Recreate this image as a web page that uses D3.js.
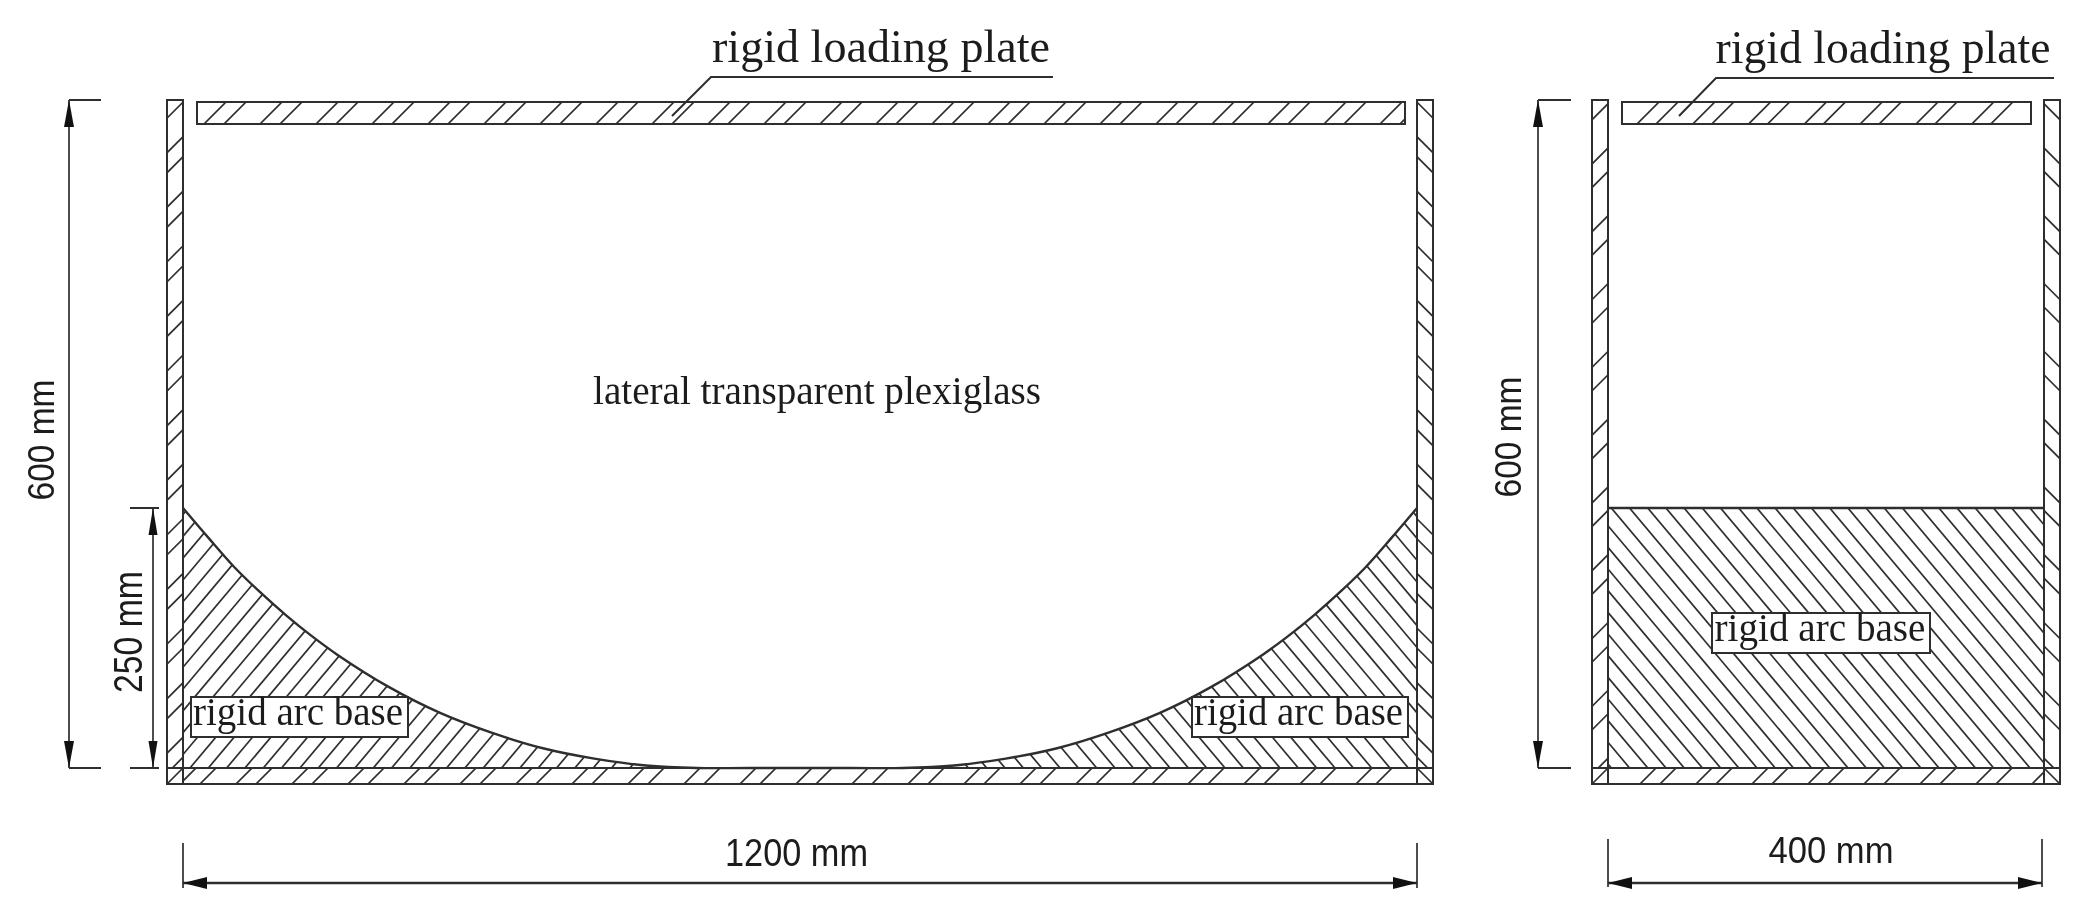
<!DOCTYPE html>
<html><head><meta charset="utf-8">
<script src="https://cdnjs.cloudflare.com/ajax/libs/d3/7.8.5/d3.min.js"></script>
<style>html,body{margin:0;padding:0;background:#fff}svg{display:block;filter:blur(0.7px)}</style>
</head><body><svg id="c" width="2096" height="912"></svg>
<script>
// Values (millimetres)
const frontWidth = 1200, sideWidth = 400, boxHeight = 600, baseHeight = 250;
const arcX = [0,25,50,75,100,125,150,200,250,300,350,400,450,500,550,650,700,750,800,850,900,950,1000,1050,1075,1100,1125,1150,1175,1200];
const arcH = [250,221,193,169,147,127,109,78,53,34,19,9,2.4,0,0,0,0,2.4,9,19,34,53,78,109,127,147,169,193,221,250];
const plateLabel = "rigid loading plate", baseLabel = "rigid arc base", sideLabel = "lateral transparent plexiglass";
const dimLabels = ["1200 mm","400 mm","600 mm","250 mm"];

const INK = "#2e2e2e";
const svg = d3.select("#c");
const defs = svg.append("defs");
const x1 = d3.scaleLinear().domain([0,frontWidth]).range([183,1417]);
const x2 = d3.scaleLinear().domain([0,sideWidth]).range([1608,2044]);
const y  = d3.scaleLinear().domain([0,baseHeight,boxHeight]).range([768,508,100]);
const wall = 16, floorY = y(0), bottomY = floorY + wall, topY = y(boxHeight);
let clipN = 0;

function clipRect(x0,y0,x9,y9){
  const id = "k"+(clipN++);
  defs.append("clipPath").attr("id",id).append("rect").attr("x",x0).attr("y",y0).attr("width",x9-x0).attr("height",y9-y0);
  return id;
}
function clipPath(d){
  const id = "k"+(clipN++);
  defs.append("clipPath").attr("id",id).append("path").attr("d",d);
  return id;
}
// dir=+1: "/" lines through (c, yRef); dir=-1: "\" lines through (c, yRef); s = rise over run
function hatch(id,dir,yRef,offsets,s=1){
  svg.append("g").attr("clip-path",`url(#${id})`).selectAll("line").data(offsets).join("line")
    .attr("x1",d=>d-dir*1000/s).attr("y1",yRef+1000).attr("x2",d=>d+dir*1000/s).attr("y2",yRef-1000)
    .attr("stroke",INK).attr("stroke-width",1.7);
}
const pairs = (a,b,p,n) => d3.range(n).flatMap(k=>[a+p*k,b+p*k]);
function outline(x0,y0,x9,y9,w){
  svg.append("rect").attr("x",x0).attr("y",y0).attr("width",x9-x0).attr("height",y9-y0)
    .attr("fill","none").attr("stroke",INK).attr("stroke-width",w||2);
}
function seg(a,b,c,d,w){
  svg.append("line").attr("x1",a).attr("y1",b).attr("x2",c).attr("y2",d).attr("stroke",INK).attr("stroke-width",w||1.7);
}
function arrow(x,yy,ang,len,hw){
  svg.append("path").attr("d",`M0,0L${len},${-hw}L${len},${hw}Z`).attr("fill","#111")
    .attr("transform",`translate(${x},${yy}) rotate(${ang})`);
}
function label(s,x,yy,size,len,fam,rot){
  const t = svg.append("text").text(s).attr("font-family",fam).attr("font-size",size).attr("fill","#1c1c1c")
    .attr("text-anchor","middle").attr("textLength",len).attr("lengthAdjust","spacingAndGlyphs");
  if(rot) t.attr("transform",`translate(${x},${yy}) rotate(-90)`);
  else t.attr("x",x).attr("y",yy);
}
const SERIF="'Liberation Serif',serif", SANS="'Liberation Sans',sans-serif";
const HATCH_SLOPE = 1.19;

// ---- front view ----
const L0=x1(0), L1=x1(frontWidth);
const area = d3.area().x((d,i)=>x1(arcX[i])).y0(floorY).y1((d,i)=>y(arcH[i])).curve(d3.curveCatmullRom.alpha(0.5));
const arcLine = d3.line().x((d,i)=>x1(arcX[i])).y((d,i)=>y(arcH[i])).curve(d3.curveCatmullRom.alpha(0.5));
const areaId = clipPath(area(arcX));
const midX = x1(frontWidth/2);
const hl = "k"+(clipN++), hr = "k"+(clipN++);
defs.append("clipPath").attr("id",hl).attr("clip-path",`url(#${areaId})`).append("rect").attr("x",L0).attr("y",topY).attr("width",midX-L0).attr("height",700);
defs.append("clipPath").attr("id",hr).attr("clip-path",`url(#${areaId})`).append("rect").attr("x",midX).attr("y",topY).attr("width",L1-midX).attr("height",700);
hatch(hl,1,floorY,d3.range(-14,36).map(k=>208.3+18.33*k),HATCH_SLOPE);
hatch(hr,-1,floorY,d3.range(-14,36).map(k=>1408.3-18.33*k),HATCH_SLOPE);
svg.append("path").attr("d",arcLine(arcX)).attr("fill","none").attr("stroke",INK).attr("stroke-width",2.4);

// walls
hatch(clipRect(L0-wall,topY,L0,floorY),1,0,pairs(L0+136.7-54.6,L0+156.7-54.6,54.6,13));
hatch(clipRect(L1,topY,L1+wall,floorY),-1,0,pairs(L1-136.7+54.6,L1-156.7+54.6,-54.6,13));
outline(L0-wall,topY,L0,bottomY); outline(L1,topY,L1+wall,bottomY);
// floor
hatch(clipRect(L0,floorY,L1,bottomY),1,bottomY,pairs(180,200,56,22));
outline(L0-wall,floorY,L1+wall,bottomY);
seg(L0-wall,bottomY,L0,floorY); seg(L1,floorY,L1+wall,bottomY);
// plate
hatch(clipRect(197,102,1405,124),1,124,pairs(204,224,56,22));
outline(197,102,1405,124);
// leader
svg.append("path").attr("d","M672,116L711,77L1053,77").attr("fill","none").attr("stroke",INK).attr("stroke-width",2);
label(plateLabel,881,62,46,338,SERIF);
label(sideLabel,817,404,39,448,SERIF);

function boxLabel(x0,x9,y0,y9,tx0,tx9,base){
  svg.append("rect").attr("x",x0).attr("y",y0).attr("width",x9-x0).attr("height",y9-y0).attr("fill","#fff").attr("stroke",INK).attr("stroke-width",2);
  label(baseLabel,(tx0+tx9)/2,base,39,tx9-tx0,SERIF);
}
boxLabel(191,408,697,737,193,403,725);
boxLabel(1192,1408,697,737,1194,1403,725);

// dimensions front
seg(69,topY,69,floorY); seg(69,topY,101,topY,2); seg(69,floorY,101,floorY,2);
arrow(69,topY,90,27,5); arrow(69,floorY,-90,27,5);
seg(153,y(baseHeight),153,floorY); seg(130,y(baseHeight),159,y(baseHeight),2); seg(130,floorY,159,floorY,2);
arrow(153,y(baseHeight),90,27,4.5); arrow(153,floorY,-90,27,4.5);
label(dimLabels[2],53.5,440,37,121,SANS,true);
label(dimLabels[3],142,632,40,122,SANS,true);
const dimY=883;
seg(L0,843,L0,888); seg(L1,843,L1,888); seg(L0,dimY,L1,dimY,2.4);
arrow(L0,dimY,0,24,6); arrow(L1,dimY,180,24,6);
label(dimLabels[0],796.5,866,38,143,SANS);

// ---- side view ----
const R0=x2(0), R1=x2(sideWidth);
hatch(clipRect(R0,y(baseHeight),R1,floorY),-1,floorY,d3.range(-13,25).map(k=>2030-18.2*k),HATCH_SLOPE);
seg(R0,y(baseHeight),R1,y(baseHeight),2.6);
hatch(clipRect(R0-wall,topY,R0,floorY),1,0,pairs(R0+148-67.8,R0+171.5-67.8,67.8,11));
hatch(clipRect(R1,topY,R1+wall,floorY),-1,0,pairs(R1-148+67.8,R1-171.5+67.8,-67.8,11));
outline(R0-wall,topY,R0,bottomY); outline(R1,topY,R1+wall,bottomY);
hatch(clipRect(R0,floorY,R1,bottomY),1,bottomY,pairs(1640,1660,56,8));
outline(R0-wall,floorY,R1+wall,bottomY);
seg(R0-wall,bottomY,R0,floorY); seg(R1,floorY,R1+wall,bottomY);
hatch(clipRect(1622,102,2031,124),1,124,pairs(1637,1656,55.8,7));
outline(1622,102,2031,124);
svg.append("path").attr("d","M1679,116L1716,78L2054,78").attr("fill","none").attr("stroke",INK).attr("stroke-width",2);
label(plateLabel,1883,63,46,335,SERIF);
svg.append("rect").attr("x",1712).attr("y",613).attr("width",218).attr("height",40).attr("fill","#fff").attr("stroke",INK).attr("stroke-width",2);
label(baseLabel,1820,641,39,211,SERIF);

seg(1538,topY,1538,floorY); seg(1538,topY,1571,topY,2); seg(1538,floorY,1571,floorY,2);
arrow(1538,topY,90,27,5); arrow(1538,floorY,-90,27,5);
label(dimLabels[2],1521,437,37,121,SANS,true);
seg(R0,839,R0,887); seg(R1-2,839,R1-2,887); seg(R0,dimY,R1-2,dimY,2.4);
arrow(R0,dimY,0,24,6); arrow(R1-2,dimY,180,24,6);
label(dimLabels[1],1831,863,37,125,SANS);
</script></body></html>
